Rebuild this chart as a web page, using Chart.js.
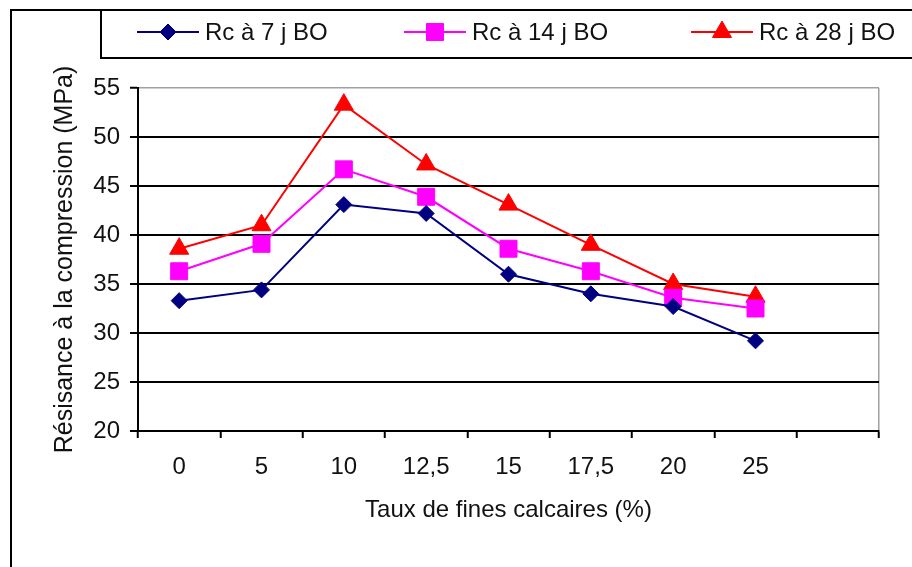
<!DOCTYPE html>
<html>
<head>
<meta charset="utf-8">
<script src="https://cdn.jsdelivr.net/npm/chart.js@4/dist/chart.umd.min.js"></script>
<style>
  html, body { margin: 0; padding: 0; background: #ffffff; }
  #wrap { width: 912px; height: 567px; position: relative; }
</style>
</head>
<body>
<div id="wrap"><canvas id="c" width="912" height="567"></canvas></div>
<script>
// Fine limestone content (%) — the last slot is an empty category
const categories = ['0', '5', '10', '12,5', '15', '17,5', '20', '25', ''];
// Compressive strength (MPa) at 7, 14 and 28 days
const rc7  = [33.3, 34.4, 43.1, 42.2, 36.0, 34.0, 32.7, 29.2];
const rc14 = [36.3, 39.1, 46.7, 43.9, 38.6, 36.3, 33.6, 32.5];
const rc28 = [38.6, 41.0, 53.3, 47.2, 43.1, 39.0, 35.0, 33.7];
const seriesNames = ['Rc à 7 j BO', 'Rc à 14 j BO', 'Rc à 28 j BO'];
const yTicks = [20, 25, 30, 35, 40, 45, 50, 55];

const FONT = '"Liberation Sans", Arial, sans-serif';

// Frame around the figure plus a legend that shows line + marker per series
const frameLegend = {
  id: 'frameLegend',
  afterDraw(chart) {
    const ctx = chart.ctx;
    ctx.save();
    ctx.strokeStyle = '#000';
    ctx.lineWidth = 2;
    ctx.beginPath();
    ctx.moveTo(11, 567); ctx.lineTo(11, 10); ctx.lineTo(912, 10);
    ctx.moveTo(101, 10); ctx.lineTo(101, 58); ctx.lineTo(912, 58);
    ctx.stroke();

    const starts = [137, 404, 691];
    const y = 32;
    chart.data.datasets.forEach((ds, i) => {
      const x0 = starts[i];
      ctx.strokeStyle = ds.borderColor;
      ctx.lineWidth = 2;
      ctx.beginPath();
      ctx.moveTo(x0, y); ctx.lineTo(x0 + 62, y);
      ctx.stroke();
      ctx.fillStyle = ds.pointBackgroundColor;
      ctx.strokeStyle = ds.pointBorderColor;
      ctx.lineWidth = 1;
      Chart.helpers.drawPoint(ctx, {
        pointStyle: ds.pointStyle, radius: ds.pointRadius, rotation: 0, borderWidth: 1
      }, x0 + 31, y);
      ctx.fillStyle = '#111';
      ctx.font = '24px ' + FONT;
      ctx.textBaseline = 'middle';
      ctx.textAlign = 'left';
      ctx.fillText(ds.label, x0 + 68, y + 1);
    });
    ctx.restore();
  }
};

function series(label, data, color, style, radius) {
  return {
    label, data,
    borderColor: color, backgroundColor: color,
    pointBackgroundColor: color, pointBorderColor: color,
    pointStyle: style, pointRadius: radius, pointBorderWidth: 1,
    borderWidth: 2, tension: 0, fill: false
  };
}

new Chart(document.getElementById('c'), {
  type: 'line',
  data: {
    labels: categories,
    datasets: [
      series(seriesNames[0], rc7, '#000080', 'rectRot', 8),
      series(seriesNames[1], rc14, '#FF00FF', 'rect', 12),
      series(seriesNames[2], rc28, '#FF0000', 'triangle', 11)
    ]
  },
  options: {
    responsive: false,
    animation: false,
    devicePixelRatio: 1,
    events: [],
    layout: { padding: { top: 88, right: 33, left: 0, bottom: 0 } },
    plugins: { legend: { display: false }, tooltip: { enabled: false } },
    scales: {
      x: {
        type: 'category',
        offset: true,
        grid: {
          offset: true,
          drawOnChartArea: true,
          color: c => (c.type === 'tick' ? 'rgba(0,0,0,0)' : '#a0a0a0'),
          lineWidth: 1.5,
          tickColor: '#000',
          tickWidth: 2,
          tickLength: 7
        },
        border: { color: '#000', width: 2 },
        ticks: {
          autoSkip: false, maxRotation: 0, minRotation: 0,
          padding: 15, color: '#111',
          font: { family: FONT, size: 24 }
        },
        title: {
          display: true,
          text: 'Taux de fines calcaires (%)',
          color: '#111',
          font: { family: FONT, size: 24 },
          padding: { top: 0, bottom: 42 }
        },
        afterFit: s => { s.height = 136; }
      },
      y: {
        min: yTicks[0],
        max: yTicks[yTicks.length - 1],
        afterBuildTicks: s => { s.ticks = yTicks.map(v => ({ value: v })); },
        grid: {
          color: c => (c.tick && c.tick.value === 55 ? '#a0a0a0' : '#000'),
          lineWidth: c => (c.tick && c.tick.value === 55 ? 1.5 : 2),
          tickColor: '#000',
          tickWidth: 2,
          tickLength: 8
        },
        border: { color: '#000', width: 2 },
        ticks: {
          padding: 10, color: '#111',
          font: { family: FONT, size: 24 }
        },
        title: {
          display: true,
          text: 'Résisance à la compression (MPa)',
          color: '#111',
          font: { family: FONT, size: 25 },
          padding: { top: 50, bottom: 0 }
        },
        afterFit: s => { s.width = 138; }
      }
    }
  },
  plugins: [frameLegend]
});
</script>
</body>
</html>
